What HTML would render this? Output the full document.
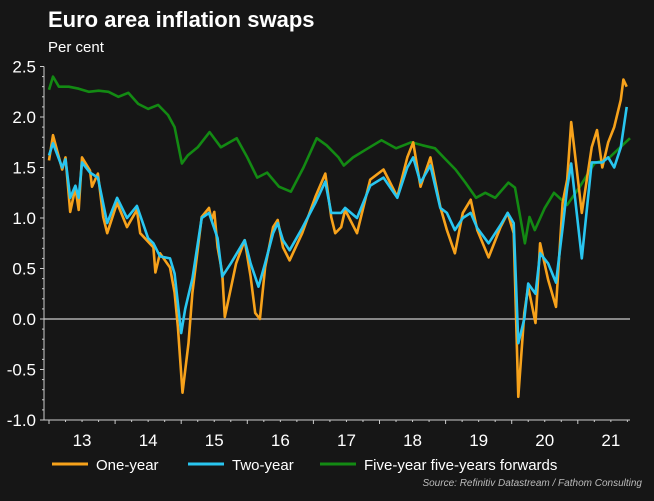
<!DOCTYPE html>
<html><head><meta charset="utf-8"><style>
body{margin:0;background:#161616;width:654px;height:496px;overflow:hidden;font-family:"Liberation Sans",sans-serif;}
</style></head><body>
<svg id="chart" width="654" height="496" xmlns="http://www.w3.org/2000/svg">
<rect width="654" height="496" fill="#161616"/>
<text x="48" y="27" fill="#fff" font-size="22" font-weight="bold">Euro area inflation swaps</text>
<text x="48" y="52" fill="#fff" font-size="15">Per cent</text>
<text x="642" y="486" fill="#bbb" font-size="10" font-style="italic" text-anchor="end">Source: Refinitiv Datastream / Fathom Consulting</text>
<g id="axes"></g><g id="series"></g>
<g>
<line x1="52" y1="464" x2="88" y2="464" stroke="#f7a21b" stroke-width="3"/>
<text x="96" y="470" fill="#fff" font-size="15">One-year</text>
<line x1="188" y1="464" x2="224" y2="464" stroke="#29c6f0" stroke-width="3"/>
<text x="232" y="470" fill="#fff" font-size="15">Two-year</text>
<line x1="320" y1="464" x2="356" y2="464" stroke="#138a13" stroke-width="3"/>
<text x="364" y="470" fill="#fff" font-size="15">Five-year five-years forwards</text>
</g>
</svg>
<script>
const yTicks=[2.5,2.0,1.5,1.0,0.5,0.0,-0.5,-1.0];
const yTickLabels=["2.5","2.0","1.5","1.0","0.5","0.0","-0.5","-1.0"];
const xYears=[2013,2014,2015,2016,2017,2018,2019,2020,2021];
const xTickLabels=["13","14","15","16","17","18","19","20","21"];
const greenDates=[2013.0,2013.06,2013.15,2013.3,2013.45,2013.6,2013.75,2013.9,2014.05,2014.2,2014.35,2014.5,2014.65,2014.8,2014.9,2015.01,2015.1,2015.25,2015.43,2015.6,2015.84,2016.0,2016.15,2016.3,2016.48,2016.66,2016.85,2017.05,2017.2,2017.38,2017.46,2017.6,2017.8,2018.03,2018.25,2018.48,2018.65,2018.84,2019.0,2019.15,2019.3,2019.46,2019.6,2019.75,2019.95,2020.05,2020.2,2020.27,2020.35,2020.5,2020.64,2020.84,2021.03,2021.25,2021.48,2021.79];
const greenValues=[2.27,2.4,2.3,2.3,2.28,2.25,2.26,2.25,2.2,2.24,2.13,2.08,2.12,2.02,1.9,1.54,1.62,1.7,1.85,1.7,1.79,1.6,1.4,1.45,1.31,1.26,1.5,1.79,1.72,1.6,1.52,1.6,1.68,1.77,1.69,1.75,1.72,1.69,1.58,1.48,1.35,1.2,1.25,1.2,1.35,1.3,0.75,1.01,0.88,1.1,1.25,1.13,1.31,1.54,1.6,1.79];
const oneDates=[2013.0,2013.06,2013.2,2013.25,2013.32,2013.4,2013.45,2013.5,2013.62,2013.65,2013.74,2013.82,2013.88,2014.03,2014.18,2014.33,2014.38,2014.58,2014.61,2014.68,2014.83,2014.9,2014.95,2015.02,2015.11,2015.17,2015.23,2015.31,2015.42,2015.46,2015.5,2015.55,2015.62,2015.66,2015.83,2015.96,2016.05,2016.12,2016.19,2016.27,2016.39,2016.46,2016.54,2016.64,2016.83,2017.03,2017.18,2017.27,2017.33,2017.42,2017.48,2017.66,2017.86,2018.06,2018.27,2018.42,2018.51,2018.62,2018.77,2018.92,2019.02,2019.14,2019.26,2019.38,2019.48,2019.65,2019.83,2019.94,2020.03,2020.1,2020.19,2020.25,2020.36,2020.43,2020.55,2020.67,2020.77,2020.84,2020.9,2021.06,2021.21,2021.29,2021.37,2021.46,2021.55,2021.65,2021.69,2021.74];
const oneValues=[1.57,1.82,1.48,1.6,1.06,1.3,1.08,1.6,1.47,1.31,1.44,1.01,0.85,1.15,0.91,1.08,0.85,0.71,0.46,0.65,0.51,0.26,-0.08,-0.73,-0.24,0.26,0.58,1.01,1.1,0.98,1.06,0.71,0.46,0.02,0.55,0.78,0.42,0.06,0.0,0.51,0.91,0.98,0.71,0.58,0.85,1.21,1.44,1.01,0.85,0.91,1.08,0.85,1.38,1.48,1.21,1.6,1.75,1.31,1.6,1.11,0.88,0.65,1.05,1.18,0.88,0.61,0.91,1.05,0.85,-0.77,0.06,0.32,-0.04,0.75,0.39,0.12,1.15,1.38,1.95,1.05,1.7,1.87,1.5,1.75,1.9,2.17,2.37,2.3];
const twoDates=[2013.0,2013.06,2013.2,2013.25,2013.32,2013.4,2013.45,2013.5,2013.62,2013.74,2013.88,2014.03,2014.18,2014.33,2014.5,2014.58,2014.68,2014.83,2014.9,2015.0,2015.06,2015.17,2015.31,2015.42,2015.55,2015.62,2015.75,2015.96,2016.05,2016.17,2016.27,2016.39,2016.46,2016.54,2016.64,2016.83,2017.03,2017.18,2017.27,2017.42,2017.48,2017.66,2017.86,2018.06,2018.27,2018.42,2018.51,2018.62,2018.77,2018.92,2019.02,2019.14,2019.26,2019.38,2019.48,2019.65,2019.83,2019.94,2020.03,2020.1,2020.19,2020.25,2020.36,2020.43,2020.55,2020.67,2020.77,2020.84,2020.9,2021.06,2021.21,2021.37,2021.46,2021.55,2021.65,2021.74];
const twoValues=[1.62,1.74,1.5,1.58,1.2,1.32,1.2,1.55,1.45,1.4,0.95,1.2,1.0,1.12,0.8,0.75,0.62,0.6,0.45,-0.14,0.1,0.4,1.0,1.05,0.8,0.42,0.55,0.78,0.55,0.32,0.55,0.85,0.95,0.78,0.68,0.9,1.15,1.36,1.05,1.05,1.1,1.0,1.32,1.4,1.2,1.5,1.6,1.35,1.52,1.1,1.05,0.88,1.0,1.05,0.9,0.75,0.93,1.05,0.95,-0.24,0.0,0.35,0.25,0.65,0.55,0.36,0.9,1.3,1.54,0.6,1.55,1.55,1.6,1.5,1.7,2.1];
const X0=49,XW=66.1,Y0=319,YU=101,XL=44,XR=630;
const xs=d=>X0+(d-2013)*XW, ys=v=>Y0-v*YU;
const NS="http://www.w3.org/2000/svg";
const axes=document.getElementById('axes'), ser=document.getElementById('series');
function mk(t,a,p){const e=document.createElementNS(NS,t);for(const k in a)e.setAttribute(k,a[k]);p.appendChild(e);return e;}
yTicks.forEach((v,i)=>{
 const l=mk('line',{x1:XL-4,x2:XL,y1:ys(v),y2:ys(v),stroke:'#ccc','stroke-width':1},axes);
 
 
 for(let k=1;k<5&&i<yTicks.length-1;k++){const m=mk('line',{x1:XL-2,x2:XL,y1:ys(v-k*0.1),y2:ys(v-k*0.1),stroke:'#ccc','stroke-width':1},axes);
 
 }
 const t=mk('text',{x:XL-8,y:ys(v)+6,fill:'#fff','font-size':17,'text-anchor':'end'},axes);t.textContent=yTickLabels[i];
 
 
});
const ya=mk('line',{x1:XL,x2:XL,y1:ys(2.5),y2:ys(-1),stroke:'#ccc','stroke-width':1},axes);


const xa=mk('line',{x1:XL,x2:XR,y1:ys(-1),y2:ys(-1),stroke:'#ccc','stroke-width':1},axes);


const zl=mk('line',{x1:XL,x2:XR,y1:ys(0),y2:ys(0),stroke:'#ccc','stroke-width':1.3},axes);


xYears.forEach((yr,i)=>{
 for(let m=0;m<12;m+=3){const x=xs(yr+m/12);if(x>XR)break;const tk=mk('line',{x1:x,x2:x,y1:ys(-1),y2:ys(-1)+(m==0?4:2),stroke:'#ccc','stroke-width':1},axes);
 
 }
 const t=mk('text',{x:xs(yr+0.5),y:ys(-1)+26,fill:'#fff','font-size':17,'text-anchor':'middle'},axes);t.textContent=xTickLabels[i];
 
 
});
function line(d,v,c,n){const p=mk('polyline',{points:d.map((q,i)=>xs(q).toFixed(1)+','+ys(v[i]).toFixed(1)).join(' '),fill:'none',stroke:c,'stroke-width':2.6,'stroke-linejoin':'round'},ser);
 
 }
line(greenDates,greenValues,'#138a13','series-five-year-forward');
line(oneDates,oneValues,'#f7a21b','series-one-year');
line(twoDates,twoValues,'#29c6f0','series-two-year');
</script>
</body></html>
